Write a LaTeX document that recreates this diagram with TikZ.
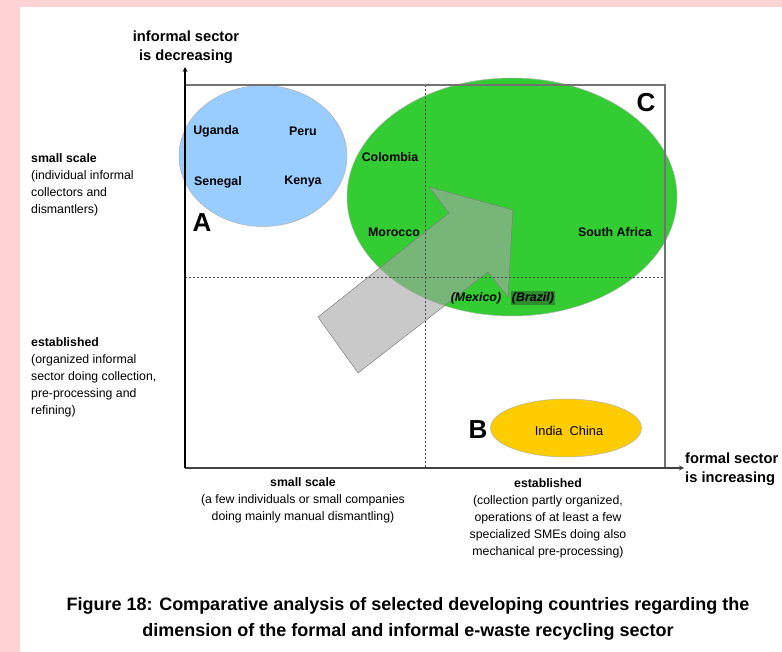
\documentclass[tikz,border=0pt]{standalone}
\usepackage{fontspec}
\setmainfont{Liberation Sans}
\usetikzlibrary{shapes.geometric,arrows}

\definecolor{pinkbg}{HTML}{FFD3D3}
\definecolor{lightblue}{HTML}{99CCFF}
\definecolor{grassgreen}{HTML}{33CC33}
\definecolor{gold}{HTML}{FFCC00}
\definecolor{darkgreen}{HTML}{2E8B2E}

\begin{document}
\begin{tikzpicture}[x=1pt,y=-1pt]
    \tikzstyle{region} = [ellipse, inner sep=0pt, draw=gray!60, line width=0.5pt]
    \tikzstyle{country} = [inner sep=1pt, font=\fontsize{12.4}{14}\selectfont\bfseries]
    \tikzstyle{letter} = [inner sep=0pt, font=\fontsize{26}{28}\selectfont\bfseries]
    \tikzstyle{scalenote} = [inner sep=0pt, font=\fontsize{12.3}{17}\selectfont]
    \tikzstyle{axistitle} = [inner sep=0pt, align=center, font=\fontsize{14.7}{19}\selectfont\bfseries]
    \tikzstyle{axis} = [line width=1.2pt, ->, >=stealth]
    \tikzstyle{frameline} = [line width=1.2pt, black!55]
    \tikzstyle{divider} = [line width=0.8pt, black!70, dash pattern=on 2pt off 2pt]

    % page and margins
    \useasboundingbox (0,0) rectangle (782,652);
    \fill [pinkbg] (0,0) rectangle (782,652);
    \fill [white] (20,7) rectangle (782,652);

    % the three groups
    \node (regionA) [region, fill=lightblue, minimum width=168pt, minimum height=141pt] at (263,156) {};
    \node (regionC) [region, fill=grassgreen, minimum width=330pt, minimum height=238pt] at (512,197) {};
    \node (regionB) [region, fill=gold, minimum width=151pt, minimum height=58pt] at (566,428) {};

    % trend arrow
    \filldraw [fill=gray!70, draw=gray, line width=0.5pt, fill opacity=0.6]
        (318,317) -- (449,213) -- (429,187) -- (513,210) -- (508,297) -- (488,272) -- (358,373) -- cycle;

    % axes and frame
    \coordinate (origin) at (185,468);
    \coordinate (ytip) at (185,67);
    \coordinate (xtip) at (684,468);
    \coordinate (topleft) at (185,85);
    \coordinate (topright) at (665,85);
    \coordinate (botright) at (665,468);
    \coordinate (midtop) at (425,85);
    \coordinate (midbot) at (425,468);
    \coordinate (midleft) at (185,277);
    \coordinate (midright) at (665,277);

    \draw [divider] (midtop) -- (midbot);
    \draw [divider] (midleft) -- (midright);
    \draw [frameline] (topleft) -- (topright) -- (botright);
    \draw [axis, black!75] (origin) -- (xtip);
    \draw [axis] (origin) -- (ytip);

    % countries
    \node (uganda) [country] at (216,131) {Uganda};
    \node (peru) [country] at (303,131) {Peru};
    \node (senegal) [country] at (218,182) {Senegal};
    \node (kenya) [country] at (303,182) {Kenya};
    \node (colombia) [country] at (390,157) {Colombia};
    \node (morocco) [country] at (394,232) {Morocco};
    \node (southafrica) [country] at (615,232) {South Africa};
    \node (mexico) [country, font=\fontsize{12.4}{14}\selectfont\bfseries\itshape] at (476,298) {(Mexico)};
    \node (brazil) [country, fill=darkgreen, font=\fontsize{12.4}{14}\selectfont\bfseries\itshape] at (533,298) {(Brazil)};
    \node (india) [country, font=\fontsize{12.8}{14}\selectfont] at (569,431) {India\ \ China};

    \node (labelA) [letter] at (202,223) {A};
    \node (labelB) [letter] at (478,430) {B};
    \node (labelC) [letter] at (646,103) {C};

    % axis titles
    \node (informal) [axistitle, anchor=north] at (186,31) {informal sector\\is decreasing};
    \node (formal) [axistitle, align=left, anchor=north west] at (685,453) {formal sector\\is increasing};

    \node (leftsmall) [scalenote, align=left, anchor=north west] at (31,153)
        {\textbf{small scale}\\(individual informal\\collectors and\\dismantlers)};
    \node (leftest) [scalenote, align=left, anchor=north west] at (31,337)
        {\textbf{established}\\(organized informal\\sector doing collection,\\pre-processing and\\refining)};
    \node (botsmall) [scalenote, align=center, anchor=north] at (303,477)
        {\textbf{small scale}\\(a few individuals or small companies\\doing mainly manual dismantling)};
    \node (botest) [scalenote, align=center, anchor=north] at (548,478)
        {\textbf{established}\\(collection partly organized,\\operations of at least a few\\specialized SMEs doing also\\mechanical pre-processing)};

    \node (caption) [inner sep=0pt, align=center, anchor=north, font=\fontsize{18}{26}\selectfont\bfseries] at (408,597)
        {Figure 18: Comparative analysis of selected developing countries regarding the\\dimension of the formal and informal e-waste recycling sector};
\end{tikzpicture}
\end{document}
